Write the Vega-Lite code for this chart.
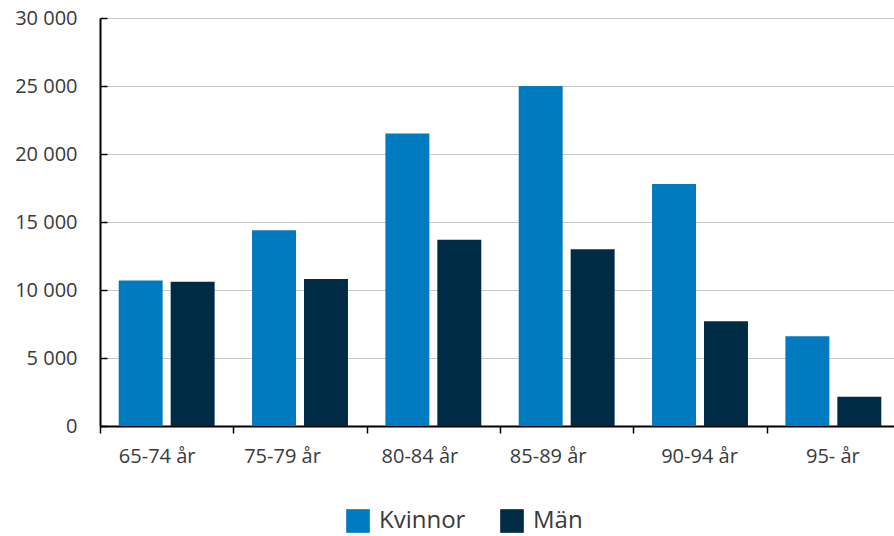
{
  "$schema": "https://vega.github.io/schema/vega-lite/v6.json",
  "autosize": "none",
  "width": 800,
  "height": 408,
  "padding": {"left": 100, "top": 18, "right": 0, "bottom": 110},
  "config": {
    "font": "Open Sans",
    "view": {"stroke": null},
    "axis": {"labelFont": "Open Sans", "labelColor": "#3a3a3a", "labelFontWeight": "normal"}
  },
  "data": {
    "values": [
      {"age": "65-74 år", "kon": "Kvinnor", "antal": 10700},
      {"age": "65-74 år", "kon": "Män", "antal": 10600},
      {"age": "75-79 år", "kon": "Kvinnor", "antal": 14400},
      {"age": "75-79 år", "kon": "Män", "antal": 10800},
      {"age": "80-84 år", "kon": "Kvinnor", "antal": 21500},
      {"age": "80-84 år", "kon": "Män", "antal": 13700},
      {"age": "85-89 år", "kon": "Kvinnor", "antal": 25000},
      {"age": "85-89 år", "kon": "Män", "antal": 13000},
      {"age": "90-94 år", "kon": "Kvinnor", "antal": 17800},
      {"age": "90-94 år", "kon": "Män", "antal": 7700},
      {"age": "95- år", "kon": "Kvinnor", "antal": 6600},
      {"age": "95- år", "kon": "Män", "antal": 2150}
    ]
  },
  "mark": {"type": "bar"},
  "encoding": {
    "x": {
      "field": "age",
      "type": "nominal",
      "sort": null,
      "scale": {"paddingInner": 0, "paddingOuter": 0},
      "axis": {
        "title": null,
        "labelAngle": 0,
        "labelFontSize": 20,
        "labelPadding": 13,
        "labelOffset": {
          "condition": [
            {"test": "datum.value == '65-74 år'", "value": -10},
            {"test": "datum.value == '75-79 år'", "value": -18},
            {"test": "datum.value == '80-84 år'", "value": -14},
            {"test": "datum.value == '85-89 år'", "value": -19}
          ],
          "value": -1
        },
        "tickBand": "extent",
        "tickSize": 7,
        "tickColor": "#000000",
        "tickWidth": 1.5,
        "domainColor": "#000000",
        "domainWidth": 2,
        "grid": false
      }
    },
    "xOffset": {
      "field": "kon",
      "type": "nominal",
      "scale": {"paddingInner": 0.154, "paddingOuter": 0.36}
    },
    "y": {
      "field": "antal",
      "type": "quantitative",
      "scale": {"domain": [0, 30000], "nice": false},
      "axis": {
        "title": null,
        "values": [0, 5000, 10000, 15000, 20000, 25000, 30000],
        "labelExpr": "replace(format(datum.value, ','), ',', ' ')",
        "labelFontSize": 20,
        "labelPadding": 30,
        "tickSize": -7,
        "tickColor": "#000000",
        "tickWidth": 1.5,
        "domainColor": "#000000",
        "domainWidth": 2,
        "gridColor": "#c8c8c8",
        "gridWidth": 1
      }
    },
    "color": {
      "field": "kon",
      "type": "nominal",
      "scale": {"domain": ["Kvinnor", "Män"], "range": ["#007bc0", "#002b45"]},
      "legend": {
        "title": null,
        "orient": "none",
        "direction": "horizontal",
        "legendX": 246,
        "legendY": 491,
        "symbolType": "square",
        "symbolSize": 560,
        "symbolStrokeWidth": 0,
        "symbolOpacity": 1,
        "labelFontSize": 24,
        "labelFont": "Open Sans",
        "labelFontWeight": "normal",
        "labelColor": "#3a3a3a",
        "labelOffset": 9,
        "columnPadding": 34
      }
    }
  }
}
